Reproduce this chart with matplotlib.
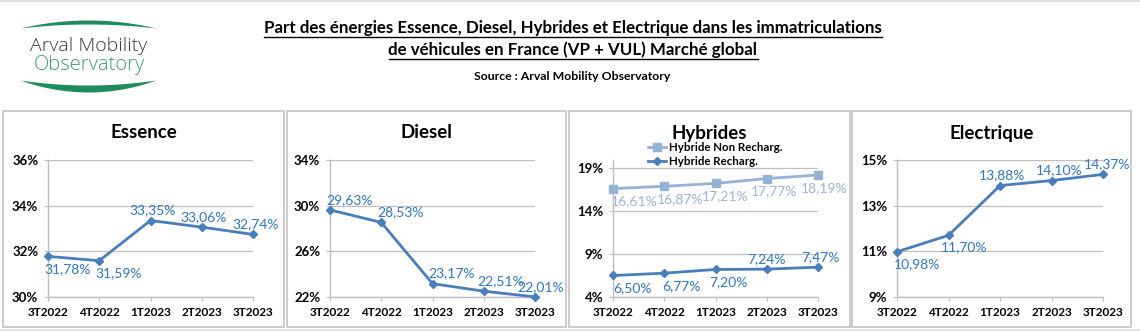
import numpy as np
import matplotlib
matplotlib.use("Agg")
import matplotlib.pyplot as plt
from matplotlib.patches import Rectangle
from matplotlib.lines import Line2D

# Figure geometry (pixels)
W, H, DPI = 1140, 332, 100
FONT = ["Lato", "DejaVu Sans"]
plt.rcParams["font.family"] = FONT

# Data: share of each energy in registrations (%)
quarters = ["3T2022", "4T2022", "1T2023", "2T2023", "3T2023"]
essence = [31.78, 31.59, 33.35, 33.06, 32.74]
diesel = [29.63, 28.53, 23.17, 22.51, 22.01]
hybride_non_recharg = [16.61, 16.87, 17.21, 17.77, 18.19]
hybride_recharg = [6.50, 6.77, 7.20, 7.24, 7.47]
electrique = [10.98, 11.70, 13.88, 14.10, 14.37]

essence_ticks = [30, 32, 34, 36]
diesel_ticks = [22, 26, 30, 34]
hybrides_ticks = [4, 9, 14, 19]
electrique_ticks = [9, 11, 13, 15]

# label offsets in pixels (dx, dy up)
essence_off = [(20, -13), (19, -12), (2, 10), (2, 10), (3, 10)]
diesel_off = [(20, 10), (19, 10), (19, 10), (17, 10), (6, 10)]
hnr_off = [(21, -13), (16, -13), (10, -13), (7, -13), (6, -13)]
hr_off = [(20, -13), (17, -13), (13, -13), (0, 10), (2, 10)]
elec_off = [(20, -12), (16, -12), (2, 10), (8, 10), (4, 10)]

LINE = "#4A7EBB"
LABEL = "#2E78BE"
LIGHT = "#95B3D7"
LIGHT_LABEL = "#9DB3D4"
GRID = "#BFBFBF"
BORDER = "#C8C8C8"


def rect(x0, y0, x1, y1):
    return [x0 / W, 1 - y1 / H, (x1 - x0) / W, (y1 - y0) / H]


def pct(v):
    return f"{v:.2f}%".replace(".", ",")


fig = plt.figure(figsize=(W / DPI, H / DPI), dpi=DPI)

# background layer in pixel coordinates
bg = fig.add_axes([0, 0, 1, 1], zorder=0)
bg.set_xlim(0, W)
bg.set_ylim(H, 0)
bg.axis("off")

bg.plot([0, W], [0.8, 0.8], color="#D9D9D9", lw=1.2)
bg.plot([0, W], [330, 330], color="#E4E4E4", lw=1.5)

boxes = [(3, 284), (287, 566), (569, 850), (852, 1131)]
for x0, x1 in boxes:
    bg.add_patch(Rectangle((x0, 111), x1 - x0, 216, fill=False,
                           edgecolor=BORDER, lw=1.3))

# logo: two green crescents around the name
t = np.linspace(-1, 1, 200)
xs = 88 + 68 * t
bg.fill_between(xs, 28 - 8 * (1 - t ** 2), 28 - 4 * (1 - t ** 2),
                color="#1E8C5C", lw=0)
bg.fill_between(xs, 80 + 5 * (1 - t ** 2), 80 + 12 * (1 - t ** 2),
                color="#1E8C5C", lw=0)
logo_font = ["Open Sans", "DejaVu Sans"]
bg.text(89, 46, "Arval Mobility", ha="center", va="center", fontsize=14,
        color="#3A3A3A", family=logo_font, fontweight="light")
bg.text(89, 65, "Observatory", ha="center", va="center", fontsize=14.5,
        color="#3C9A7C", family=logo_font, fontweight="light")

# header
title_lines = [
    ("Part des énergies Essence, Diesel, Hybrides et Electrique dans les immatriculations", 28),
    ("de véhicules en France (VP + VUL) Marché global", 50),
]
title_texts = []
for s, y in title_lines:
    title_texts.append(bg.text(573, y, s, ha="center", va="center", fontsize=12.2,
                               fontweight="bold", color="black"))
bg.text(572, 76, "Source : Arval Mobility Observatory", ha="center", va="center",
        fontsize=8.8, fontweight="bold", color="black")

renderer = fig.canvas.get_renderer()
inv = bg.transData.inverted()
for txt in title_texts:
    bb = txt.get_window_extent(renderer)
    (xa, ya), (xb, yb) = inv.transform([[bb.x0, bb.y0], [bb.x1, bb.y1]])
    bg.plot([xa, xb], [ya + 0.5, ya + 0.5], color="black", lw=1.0)

# chart panels
panels = [
    ("Essence", (48, 253), essence_ticks, (30, 36)),
    ("Diesel", (330, 535), diesel_ticks, (22, 34)),
    ("Hybrides", (613, 818), hybrides_ticks, (4, 19.93)),
    ("Electrique", (897, 1103), electrique_ticks, (9, 15)),
]
axes = []
for (name, (x0, x1), ticks, lim), (bx0, bx1) in zip(panels, boxes):
    ax = fig.add_axes(rect(x0, 160, x1, 297), zorder=2)
    ax.patch.set_alpha(0)
    ax.set_xlim(0, len(quarters) - 1)
    ax.set_ylim(*lim)
    ax.set_yticks(ticks)
    ax.set_yticklabels([f"{v}%" for v in ticks], fontsize=9.5, fontweight="bold")
    ax.set_xticks(range(len(quarters)))
    ax.set_xticklabels(quarters, fontsize=8.5, fontweight="bold")
    ax.grid(axis="y", color=GRID, lw=0.9)
    ax.set_axisbelow(True)
    for side in ["top", "right"]:
        ax.spines[side].set_visible(False)
    for side in ["left", "bottom"]:
        ax.spines[side].set_color(GRID)
        ax.spines[side].set_linewidth(1.0)
    ax.tick_params(axis="both", length=3, color=GRID, pad=4)
    bg.text((bx0 + bx1) / 2, 133, name, ha="center", va="center",
            fontsize=13.5, fontweight="bold")
    axes.append(ax)

k = 72 / DPI


def series(ax, vals, offs, color, lcolor, marker, ms):
    x = np.arange(len(vals))
    ax.plot(x, vals, color=color, lw=2.0, marker=marker, ms=ms,
            clip_on=False, zorder=3)
    for xi, v, (dx, dy) in zip(x, vals, offs):
        ax.annotate(pct(v), (xi, v), xytext=(dx * k, dy * k),
                    textcoords="offset points", ha="center", va="center",
                    fontsize=10, color=lcolor, annotation_clip=False, zorder=4)


series(axes[0], essence, essence_off, LINE, LABEL, "D", 4.5)
series(axes[1], diesel, diesel_off, LINE, LABEL, "D", 4.5)
series(axes[2], hybride_non_recharg, hnr_off, LIGHT, LIGHT_LABEL, "s", 5.5)
series(axes[2], hybride_recharg, hr_off, LINE, LABEL, "D", 4.0)
series(axes[3], electrique, elec_off, LINE, LABEL, "D", 4.5)

handles = [
    Line2D([], [], color=LIGHT, lw=2.0, marker="s", ms=5.5),
    Line2D([], [], color=LINE, lw=2.0, marker="D", ms=4.0),
]
axes[2].legend(handles, ["Hybride Non Recharg.", "Hybride Recharg."],
               loc="upper left", bbox_to_anchor=(648 / W, 1 - 142 / H),
               bbox_transform=fig.transFigure, frameon=False,
               prop={"size": 8.3, "weight": "bold"}, handlelength=1.6,
               handletextpad=0.2, labelspacing=0.25, borderpad=0,
               borderaxespad=0)

fig.savefig("out.png", dpi=DPI)
